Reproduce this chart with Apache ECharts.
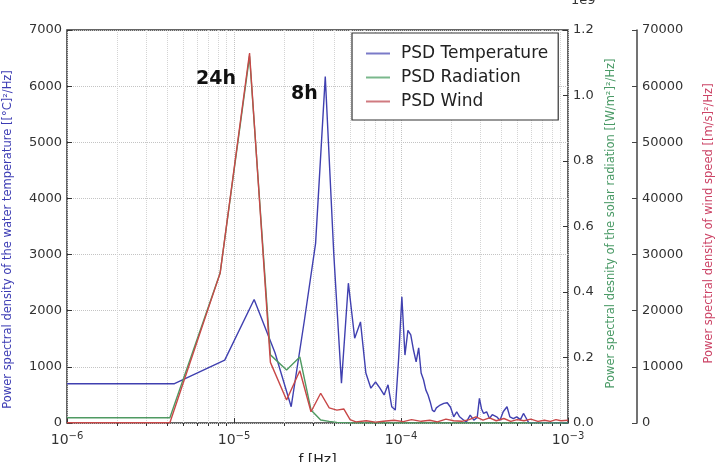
<!DOCTYPE html>
<html>
<head>
<meta charset="utf-8">
<script src="https://cdn.jsdelivr.net/npm/echarts@6/dist/echarts.min.js"></script>
<style>
  html, body { margin: 0; padding: 0; background: #fff; }
  #psdChart { width: 719px; height: 462px; }
</style>
</head>
<body>
<div id="psdChart"></div>
<script>
// frequencies [Hz] of the temperature spectrum
var tempFreq = [
  1e-6, 4.4e-6, 8.8e-6, 1.32e-5, 1.76e-5, 2.2e-5, 2.64e-5, 3.08e-5, 3.52e-5, 3.96e-5,
  4.4e-5, 4.84e-5, 5.28e-5, 5.72e-5, 6.16e-5, 6.6e-5, 7.04e-5, 7.48e-5, 7.92e-5, 8.36e-5,
  8.8e-5, 9.24e-5, 9.68e-5, 1.012e-4, 1.056e-4, 1.1e-4, 1.144e-4, 1.188e-4, 1.232e-4, 1.276e-4,
  1.32e-4, 1.364e-4, 1.408e-4, 1.452e-4, 1.496e-4, 1.54e-4, 1.584e-4, 1.628e-4, 1.672e-4, 1.716e-4,
  1.804e-4, 1.892e-4, 1.98e-4, 2.068e-4, 2.156e-4, 2.244e-4, 2.376e-4, 2.464e-4, 2.596e-4, 2.728e-4,
  2.86e-4, 2.948e-4, 3.036e-4, 3.124e-4, 3.256e-4, 3.388e-4, 3.52e-4, 3.74e-4, 3.916e-4, 4.092e-4,
  4.312e-4, 4.488e-4, 4.708e-4, 4.928e-4, 5.192e-4, 5.412e-4, 5.632e-4, 5.8e-4, 1e-3
];
// PSD of the water temperature [[°C]^2/Hz]
var tempValues = [
  700, 700, 1120, 2200, 1250, 290, 1830, 3200, 6170, 3000,
  710, 2490, 1510, 1800, 890, 620, 730, 620, 500, 680,
  290, 230, 1150, 2250, 1210, 1650, 1570, 1300, 1090, 1340,
  890, 770, 590, 500, 375, 230, 200, 270, 290, 320,
  350, 360, 280, 110, 200, 110, 50, 20, 140, 50,
  100, 440, 250, 170, 200, 80, 150, 110, 50, 200,
  290, 110, 80, 110, 60, 170, 80, 10, 5
];

// frequencies [Hz] of the radiation and wind spectra
var metFreq = [
  1e-6, 4.13e-6, 8.26e-6, 1.239e-5, 1.652e-5, 2.065e-5, 2.478e-5, 2.891e-5, 3.304e-5, 3.717e-5,
  4.13e-5, 4.543e-5, 4.956e-5, 5.369e-5, 6.195e-5, 7.021e-5, 7.847e-5, 9.086e-5, 1.0325e-4, 1.1564e-4,
  1.3216e-4, 1.4868e-4, 1.652e-4, 1.8585e-4, 2.065e-4, 2.3128e-4, 2.5606e-4, 2.8084e-4, 3.0975e-4, 3.3866e-4,
  3.717e-4, 4.13e-4, 4.543e-4, 4.956e-4, 5.4516e-4, 5.9885e-4, 6.608e-4, 7.2275e-4, 7.847e-4, 8.4665e-4,
  9.086e-4, 9.9946e-4
];
// PSD of the solar radiation [1e9 [W/m^2]^2/Hz]
var radValues = [
  0.016, 0.016, 0.458, 1.12, 0.208, 0.162, 0.2015, 0.04, 0.009, 0.005,
  0.002, 0.001, 0, 0, 0, 0, 0, 0, 0, 0,
  0, 0, 0, 0, 0, 0, 0, 0, 0, 0,
  0, 0, 0, 0, 0, 0, 0, 0, 0, 0,
  0, 0
];
// PSD of wind speed [[m/s]^2/Hz]
var windValues = [
  50, 50, 26700, 65900, 10800, 4100, 9300, 2000, 5300, 2700,
  2300, 2500, 600, 200, 400, 150, 300, 500, 250, 600,
  300, 500, 200, 700, 400, 300, 600, 1100, 500, 900,
  400, 800, 300, 600, 400, 700, 300, 500, 300, 600,
  400, 500
];

var seriesNames = ["PSD Temperature", "PSD Radiation", "PSD Wind"];

function pairs(xs, ys) {
  return xs.map(function (x, i) { return [x, ys[i]]; });
}

// minor log grid positions (as exponents): log10(m * 10^k), m = 2..9
var minorExp = [];
[-6, -5, -4].forEach(function (k) {
  for (var m = 2; m <= 9; m++) minorExp.push(k + Math.log10(m));
});

var chart = echarts.init(document.getElementById("psdChart"));
var font = "DejaVu Sans";
var plain = function (v) { return String(v); };
var option = {
  animation: false,
  textStyle: { fontFamily: font },
  grid: {
    left: 67, right: 151, top: 30, bottom: 39,
    containLabel: false,
    outerBoundsMode: "none",
    show: true, borderColor: "#333", borderWidth: 1.5,
  },
  legend: {
    data: seriesNames,
    orient: "vertical",
    left: 352, top: 33,
    padding: [12, 10, 10, 14],
    itemGap: 7,
    itemWidth: 24, itemHeight: 2,
    icon: "rect",
    borderColor: "#333", borderWidth: 1.2,
    backgroundColor: "#fff",
    textStyle: { fontFamily: font, fontSize: 17, color: "#222", padding: [0, 0, 0, 6] },
  },
  xAxis: [
    {
      type: "log",
      logBase: 10,
      min: 1e-6,
      max: 1e-3,
      name: "f [Hz]",
      nameLocation: "middle",
      nameGap: 30,
      nameTextStyle: { fontSize: 14, color: "#222" },
      axisLine: { show: false },
      axisTick: { inside: true, length: 5, lineStyle: { color: "#333" } },
      splitLine: { show: true, lineStyle: { color: "#c4c4c4", type: "dotted" } },
      axisLabel: {
        margin: 8,
        formatter: function (v) {
          var e = Math.round(Math.log10(v));
          return "{b|10}{s|\u2212" + Math.abs(e) + "}";
        },
        rich: {
          b: { fontSize: 14, color: "#333", fontFamily: font },
          s: { fontSize: 10, color: "#333", fontFamily: font, verticalAlign: "top", padding: [0, 0, 8, 0] },
        },
      },
    },
    {
      // helper axis in exponent units: minor log grid lines and top minor ticks
      type: "value",
      position: "top",
      min: -6,
      max: -3,
      axisLine: { show: false },
      axisLabel: { show: false },
      axisTick: { show: true, inside: true, length: 3, customValues: minorExp, lineStyle: { color: "#333" } },
      splitLine: { show: true, lineStyle: { color: "#d4d4d4", type: "dotted" } },
    },
  ],
  yAxis: [
    {
      type: "value",
      min: 0, max: 7000, interval: 1000,
      name: "Power spectral density of the water temperature [[°C]²/Hz]",
      nameLocation: "middle",
      nameGap: 53,
      nameTextStyle: { fontSize: 11.5, color: "#3c3cb4", padding: [0, 26, 0, 0] },
      axisLine: { show: false },
      axisTick: { show: true, inside: true, length: 5, lineStyle: { color: "#333" } },
      axisLabel: { fontSize: 13, color: "#333", margin: 5, formatter: plain },
      splitLine: { show: true, lineStyle: { color: "#c4c4c4", type: "dotted" } },
    },
    {
      type: "value",
      position: "right",
      min: 0, max: 1.2, interval: 0.2,
      name: "Power spectral desnity of the solar radiation [[W/m²]²/Hz]",
      nameLocation: "middle",
      nameGap: 36,
      nameTextStyle: { fontSize: 11.5, color: "#4a9a66", padding: [0, 0, 0, 6] },
      axisLine: { show: false },
      axisTick: { show: true, inside: true, length: 5, lineStyle: { color: "#333" } },
      axisLabel: {
        fontSize: 13, color: "#333", margin: 5,
        formatter: function (v) { return v.toFixed(1); },
      },
      splitLine: { show: false },
    },
    {
      type: "value",
      position: "right",
      offset: 69,
      min: 0, max: 70000, interval: 10000,
      name: "Power spectral density of wind speed [[m/s]²/Hz]",
      nameLocation: "middle",
      nameGap: 66,
      nameTextStyle: { fontSize: 11.5, color: "#cc4466", padding: [0, 0, 0, 6] },
      axisLine: { show: true, lineStyle: { color: "#444", width: 1.5 } },
      axisTick: { show: true, inside: true, length: 5, lineStyle: { color: "#444" } },
      axisLabel: { fontSize: 13, color: "#333", margin: 5, formatter: plain },
      splitLine: { show: false },
    },
  ],
  graphic: [
    { type: "text", z: 100, left: 571, top: -6, style: { text: "1e9", font: "13px DejaVu Sans", fill: "#333" } },
    { type: "text", z: 100, left: 196, top: 70, style: { text: "24h", font: "bold 19px DejaVu Sans", fill: "#111" } },
    { type: "text", z: 100, left: 291, top: 85, style: { text: "8h", font: "bold 19px DejaVu Sans", fill: "#111" } },
  ],
  series: [
    {
      name: seriesNames[0],
      type: "line",
      xAxisIndex: 0,
      yAxisIndex: 0,
      data: pairs(tempFreq, tempValues),
      showSymbol: false,
      symbol: "none",
      z: 2,
      lineStyle: { color: "#4040b0", width: 1.4 },
      itemStyle: { color: "#7a7ac8" },
    },
    {
      name: seriesNames[1],
      type: "line",
      xAxisIndex: 0,
      yAxisIndex: 1,
      data: pairs(metFreq, radValues),
      showSymbol: false,
      symbol: "none",
      z: 3,
      lineStyle: { color: "#4f9a62", width: 1.4 },
      itemStyle: { color: "#7ab88c" },
    },
    {
      name: seriesNames[2],
      type: "line",
      xAxisIndex: 0,
      yAxisIndex: 2,
      data: pairs(metFreq, windValues),
      showSymbol: false,
      symbol: "none",
      z: 4,
      lineStyle: { color: "#c84848", width: 1.4 },
      itemStyle: { color: "#d07a80" },
    },
  ],
};
chart.setOption(option);
</script>
</body>
</html>
